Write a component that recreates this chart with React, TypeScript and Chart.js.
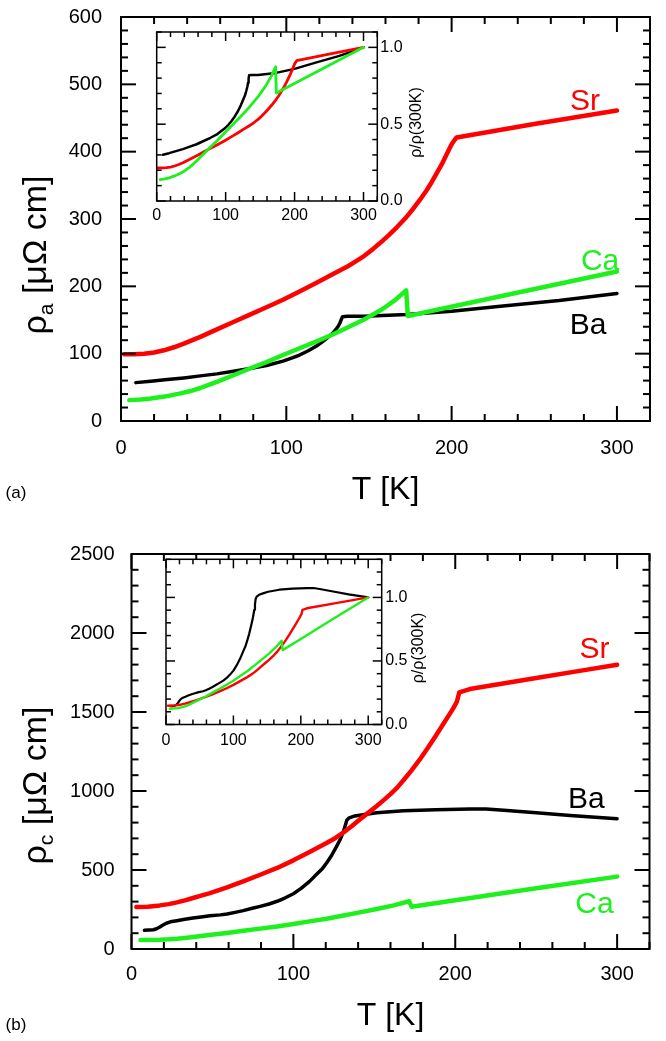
import React, { useEffect, useRef } from "react";
import { Chart, registerables } from "chart.js";

Chart.register(...registerables);

type Pt = [number, number];

// In-plane resistivity ρ_a (μΩ cm) against temperature T (K)
const srA: Pt[] = [
  [2, 99], [8, 99.3], [14, 100], [20, 101.8], [26, 105], [32, 109.5], [38, 115], [48, 125],
  [58, 136], [68, 147], [78, 158], [88, 169], [98, 180], [108, 192.5], [118, 205], [128, 218],
  [132, 223], [137, 229.5], [142, 237], [147, 245], [152, 254.5], [157, 265], [162, 276],
  [167, 288], [172, 301], [177, 316], [181, 329], [185, 343], [188, 355], [191, 368], [194, 381],
  [197, 396], [200, 411], [202, 418], [203, 421], [250, 441], [300, 461],
];
const caA: Pt[] = [
  [5, 31], [12, 32], [18, 33.5], [24, 35.5], [30, 38], [36, 41], [42, 44.5], [48, 49], [53, 53.5],
  [58, 58], [68, 68], [78, 78], [88, 87.5], [98, 98], [108, 108], [118, 118], [128, 128.5],
  [138, 140], [148, 152], [158, 166], [166, 180], [172.5, 194], [173.5, 156], [300, 222],
];
const baA: Pt[] = [
  [9, 57], [18, 59], [28, 61.5], [38, 64], [48, 67], [58, 70], [68, 74], [78, 78], [88, 82.5],
  [98, 89], [104, 94], [108, 98], [113, 104], [118, 111], [122, 118], [126, 126], [128, 130],
  [130, 136], [131.5, 141], [132.5, 146], [133.3, 151], [134, 155], [137, 155.5], [147, 155.5],
  [173, 158], [200, 163], [228, 170], [265, 179], [300, 189.5],
];

// Out-of-plane resistivity ρ_c (μΩ cm) against temperature T (K)
const srC: Pt[] = [
  [3, 266], [10, 268], [17.5, 276], [23, 284], [28, 295], [33, 308], [38, 323], [43, 338],
  [48.5, 354], [59, 390], [69, 428], [79.5, 470], [90, 513], [100, 561], [110, 614], [120.5, 671],
  [126, 703], [131, 738], [136, 777], [141, 819], [146, 860], [151.5, 905], [156, 944], [160, 980],
  [164, 1020], [168, 1068], [173, 1131], [178, 1198], [183, 1272], [188, 1350], [192.5, 1422],
  [196.7, 1490], [199, 1528], [201, 1565], [202.5, 1624], [209, 1645], [250, 1715], [275, 1757],
  [300, 1799],
];
const caC: Pt[] = [
  [5.6, 57], [17.5, 59], [23, 61.5], [28, 65], [33, 70], [38, 76], [48, 88], [59, 101], [69, 115],
  [79.5, 129], [90, 143], [100, 158], [110, 175], [120.5, 192], [131, 212], [141, 232],
  [151.5, 253], [162, 276], [171.5, 302], [173, 268], [200, 308], [250, 384], [300, 458],
];
const baC: Pt[] = [
  [8, 118], [13.5, 122], [15.5, 128], [17.5, 139], [19.5, 152], [21.5, 163], [24, 172], [28, 179],
  [33, 188], [38, 196], [43, 203], [48.5, 210], [55, 216], [59, 222], [64, 232], [69, 243],
  [74, 256], [79.5, 270], [85, 285], [90, 302], [95, 324], [100, 350], [105, 385], [110, 428],
  [115, 480], [118, 510], [120.5, 544], [123.5, 590], [126.7, 650], [129, 695], [131, 745],
  [132, 780], [133, 815], [134.5, 830], [138, 842], [145, 853], [151.5, 862], [168, 875],
  [188, 882], [209, 886], [219, 886], [230, 878], [250, 862], [271, 845], [300, 825],
];

// Axis tick labels
const tTicks = [0, 100, 200, 300];
const rhoATicks = [0, 100, 200, 300, 400, 500, 600];
const rhoCTicks = [0, 500, 1000, 1500, 2000, 2500];
const ratioTicks = [0, 0.5, 1.0];

const RED = "#ff0000";
const GREEN = "#1ef01e";
const BLACK = "#000000";
const FONT = "'Liberation Sans', Arial, Helvetica, sans-serif";

// Curve names written next to the 300 K ends (T, ρ of the text centre)
const namesA = [
  { text: "Sr", color: RED, t: 280.7, rho: 474 },
  { text: "Ca", color: GREEN, t: 289.8, rho: 236 },
  { text: "Ba", color: BLACK, t: 282.5, rho: 141 },
];
const namesC = [
  { text: "Sr", color: RED, t: 286, rho: 1892 },
  { text: "Ba", color: BLACK, t: 281, rho: 943 },
  { text: "Ca", color: GREEN, t: 286, rho: 278 },
];

// ρ/ρ(300K): each series divided by its last (300 K) value
const ratio = (s: Pt[]): Pt[] => {
  const r300 = s[s.length - 1][1];
  return s.map(([t, r]) => [t, r / r300] as Pt);
};

interface Series { data: Pt[]; color: string; width: number }
interface Area { left: number; top: number; right: number; bottom: number }
interface Panel {
  left: number; top: number; w: number; h: number;
  area: Area;
  x: [number, number]; y: [number, number];
  xTicks: number[]; yTicks: number[]; yRight: boolean;
  fontSize: number; xGap: number; yGap: number; yFmt: (v: number) => string;
  xMinor: number; xMajor: number; yMinor: number; yMajor: number;
  frameWidth: number; tickWidth: number; majorLen: number; minorLen: number;
  fill: boolean;
  series: Series[];
  decorate: (ctx: CanvasRenderingContext2D, chart: any) => void;
}

function eachStep(min: number, max: number, step: number, major: number, fn: (v: number, m: boolean) => void) {
  const n0 = Math.ceil(min / step - 1e-6);
  const n1 = Math.floor(max / step + 1e-6);
  for (let i = n0; i <= n1; i++) {
    const v = i * step;
    fn(v, Math.abs(v / major - Math.round(v / major)) < 1e-6);
  }
}

function text(ctx: CanvasRenderingContext2D, s: string, x: number, y: number, size: number, color: string) {
  ctx.save();
  ctx.font = `${size}px ${FONT}`;
  ctx.fillStyle = color;
  ctx.textAlign = "center";
  ctx.textBaseline = "middle";
  ctx.fillText(s, x, y);
  ctx.restore();
}

function rotatedText(ctx: CanvasRenderingContext2D, s: string, x: number, y: number, size: number) {
  ctx.save();
  ctx.translate(x, y);
  ctx.rotate(-Math.PI / 2);
  ctx.font = `${size}px ${FONT}`;
  ctx.fillStyle = BLACK;
  ctx.textAlign = "center";
  ctx.textBaseline = "middle";
  ctx.fillText(s, 0, 0);
  ctx.restore();
}

// "ρ" with a subscript, followed by the unit, written bottom to top
function rhoTitle(ctx: CanvasRenderingContext2D, sub: string, x: number, y: number, size: number) {
  const big = `${size}px ${FONT}`;
  const small = `${Math.round(size * 0.62)}px ${FONT}`;
  const unit = " [μΩ cm]";
  ctx.save();
  ctx.translate(x, y);
  ctx.rotate(-Math.PI / 2);
  ctx.fillStyle = BLACK;
  ctx.textBaseline = "middle";
  ctx.textAlign = "left";
  ctx.font = big;
  const w1 = ctx.measureText("ρ").width;
  const w3 = ctx.measureText(unit).width;
  ctx.font = small;
  const w2 = ctx.measureText(sub).width;
  let cx = -(w1 + w2 + w3) / 2;
  ctx.font = big;
  ctx.fillText("ρ", cx, 0);
  cx += w1;
  ctx.font = small;
  ctx.fillText(sub, cx, size * 0.3);
  cx += w2;
  ctx.font = big;
  ctx.fillText(unit, cx, 0);
  ctx.restore();
}

function names(ctx: CanvasRenderingContext2D, chart: any, list: typeof namesA, size: number) {
  const xs = chart.scales.x;
  const ys = chart.scales.y;
  for (const n of list) text(ctx, n.text, xs.getPixelForValue(n.t), ys.getPixelForValue(n.rho), size, n.color);
}

function framePlugin(p: Panel) {
  return {
    id: "frame",
    beforeDatasetsDraw(chart: any) {
      if (!p.fill) return;
      const { ctx, chartArea: a } = chart;
      ctx.save();
      ctx.fillStyle = "#ffffff";
      ctx.fillRect(a.left, a.top, a.right - a.left, a.bottom - a.top);
      ctx.restore();
    },
    afterDatasetsDraw(chart: any) {
      const { ctx, chartArea: a } = chart;
      const xs = chart.scales.x;
      const ys = chart.scales.y;
      ctx.save();
      ctx.strokeStyle = BLACK;
      ctx.lineWidth = p.tickWidth;
      const seg = (x1: number, y1: number, x2: number, y2: number) => {
        ctx.beginPath();
        ctx.moveTo(x1, y1);
        ctx.lineTo(x2, y2);
        ctx.stroke();
      };
      eachStep(p.x[0], p.x[1], p.xMinor, p.xMajor, (v, m) => {
        const px = xs.getPixelForValue(v);
        const len = m ? p.majorLen : p.minorLen;
        seg(px, a.bottom, px, a.bottom - len);
        seg(px, a.top, px, a.top + len);
      });
      eachStep(p.y[0], p.y[1], p.yMinor, p.yMajor, (v, m) => {
        const py = ys.getPixelForValue(v);
        const len = m ? p.majorLen : p.minorLen;
        seg(a.left, py, a.left + len, py);
        seg(a.right, py, a.right - len, py);
      });
      ctx.lineWidth = p.frameWidth;
      ctx.strokeRect(a.left, a.top, a.right - a.left, a.bottom - a.top);
      ctx.restore();
    },
    afterDraw(chart: any) {
      p.decorate(chart.ctx, chart);
    },
  };
}

function makeConfig(p: Panel): any {
  const a = p.area;
  const font = { family: FONT, size: p.fontSize };
  return {
    type: "line",
    data: {
      datasets: p.series.map((s) => ({
        data: s.data.map(([x, y]) => ({ x, y })),
        borderColor: s.color,
        backgroundColor: s.color,
        borderWidth: s.width,
        pointRadius: 0,
        pointHoverRadius: 0,
        tension: 0,
        borderCapStyle: "round",
        borderJoinStyle: "round",
        fill: false,
      })),
    },
    options: {
      responsive: false,
      animation: false,
      devicePixelRatio: 1,
      events: [],
      layout: {
        padding: {
          left: p.yRight ? a.left : 0,
          right: p.yRight ? 0 : p.w - a.right,
          top: a.top,
          bottom: 0,
        },
      },
      plugins: { legend: { display: false }, tooltip: { enabled: false } },
      scales: {
        x: {
          type: "linear",
          position: "bottom",
          min: p.x[0],
          max: p.x[1],
          grid: { display: false, drawTicks: true, tickLength: p.xGap },
          border: { display: false },
          ticks: {
            padding: 0, autoSkip: false, maxRotation: 0, minRotation: 0, font, color: BLACK,
            callback: (v: number) => String(v),
          },
          afterBuildTicks: (s: any) => { s.ticks = p.xTicks.map((value) => ({ value })); },
          afterFit: (s: any) => { s.height = p.h - a.bottom; },
        },
        y: {
          type: "linear",
          position: p.yRight ? "right" : "left",
          min: p.y[0],
          max: p.y[1],
          grid: { display: false, drawTicks: true, tickLength: p.yGap },
          border: { display: false },
          ticks: {
            padding: 0, autoSkip: false, font, color: BLACK,
            callback: (v: number) => p.yFmt(v),
          },
          afterBuildTicks: (s: any) => { s.ticks = p.yTicks.map((value) => ({ value })); },
          afterFit: (s: any) => { s.width = p.yRight ? p.w - a.right : a.left; },
        },
      },
    },
    plugins: [framePlugin(p)],
  };
}

const mainStyle = {
  fontSize: 20, xMinor: 20, xMajor: 100,
  frameWidth: 2, tickWidth: 2, majorLen: 15, minorLen: 7, fill: false, yRight: false,
};
const insetStyle = {
  fontSize: 16, xMinor: 20, xMajor: 100, yMinor: 0.1, yMajor: 0.5,
  frameWidth: 1.5, tickWidth: 1.5, majorLen: 9, minorLen: 5, fill: true, yRight: true,
  yFmt: (v: number) => v.toFixed(1),
};

const panels: Panel[] = [
  {
    ...mainStyle,
    left: 0, top: 0, w: 666, h: 525,
    area: { left: 121, top: 17, right: 650, bottom: 421 },
    x: [0, 320], y: [0, 600], xTicks: tTicks, yTicks: rhoATicks,
    xGap: 15, yGap: 19, yFmt: (v) => String(v), yMinor: 20, yMajor: 100,
    series: [
      { data: caA, color: GREEN, width: 4.5 },
      { data: srA, color: RED, width: 4.5 },
      { data: baA, color: BLACK, width: 3.5 },
    ],
    decorate: (ctx, chart) => {
      const a = chart.chartArea;
      rhoTitle(ctx, "a", 37, (a.top + a.bottom) / 2 + 36, 34);
      text(ctx, "T [K]", (a.left + a.right) / 2, a.bottom + 69, 32, BLACK);
      text(ctx, "(a)", 16, a.bottom + 72, 17, BLACK);
      names(ctx, chart, namesA, 30);
    },
  },
  {
    ...mainStyle,
    left: 0, top: 525, w: 666, h: 516,
    area: { left: 131.5, top: 29, right: 649.5, bottom: 424 },
    x: [0, 320], y: [0, 2500], xTicks: tTicks, yTicks: rhoCTicks,
    xGap: 13, yGap: 17, yFmt: (v) => String(v), yMinor: 100, yMajor: 500,
    series: [
      { data: caC, color: GREEN, width: 4.5 },
      { data: srC, color: RED, width: 4.5 },
      { data: baC, color: BLACK, width: 3.5 },
    ],
    decorate: (ctx, chart) => {
      const a = chart.chartArea;
      rhoTitle(ctx, "c", 37, (a.top + a.bottom) / 2 + 34, 34);
      text(ctx, "T [K]", (a.left + a.right) / 2, a.bottom + 67, 32, BLACK);
      text(ctx, "(b)", 16, a.bottom + 76, 17, BLACK);
      names(ctx, chart, namesC, 30);
    },
  },
  {
    ...insetStyle,
    left: 146, top: 20, w: 300, h: 220,
    area: { left: 10.7, top: 12, right: 231.3, bottom: 181 },
    x: [0, 320], y: [0, 1.1], xTicks: tTicks, yTicks: ratioTicks,
    xGap: 4.5, yGap: 3,
    series: [
      { data: ratio(caA), color: GREEN, width: 2.8 },
      { data: ratio(srA), color: RED, width: 2.8 },
      { data: ratio(baA), color: BLACK, width: 2.5 },
    ],
    decorate: (ctx, chart) => {
      const a = chart.chartArea;
      rotatedText(ctx, "ρ/ρ(300K)", a.right + 39, (a.top + a.bottom) / 2 + 6, 16);
    },
  },
  {
    ...insetStyle,
    left: 156, top: 540, w: 300, h: 220,
    area: { left: 10, top: 19.3, right: 225.7, bottom: 184.5 },
    x: [0, 320], y: [0, 1.3], xTicks: tTicks, yTicks: ratioTicks,
    xGap: 6, yGap: 3.5,
    series: [
      { data: ratio(caC), color: GREEN, width: 2.4 },
      { data: ratio(srC), color: RED, width: 2.4 },
      { data: ratio(baC), color: BLACK, width: 2.2 },
    ],
    decorate: (ctx, chart) => {
      const a = chart.chartArea;
      rotatedText(ctx, "ρ/ρ(300K)", a.right + 37, (a.top + a.bottom) / 2 + 6, 16);
    },
  },
];

export default function App() {
  const refs = useRef<(HTMLCanvasElement | null)[]>([]);

  useEffect(() => {
    const charts = panels.map((p, i) => new Chart(refs.current[i] as HTMLCanvasElement, makeConfig(p)));
    return () => {
      charts.forEach((c) => c.destroy());
    };
  }, []);

  return (
    <div
      style={{
        position: "absolute", left: 0, top: 0, width: 666, height: 1041,
        background: "#ffffff", overflow: "hidden",
      }}
    >
      {panels.map((p, i) => (
        <canvas
          key={i}
          ref={(el) => { refs.current[i] = el; }}
          width={p.w}
          height={p.h}
          style={{ position: "absolute", left: p.left, top: p.top, width: p.w, height: p.h }}
        />
      ))}
    </div>
  );
}
